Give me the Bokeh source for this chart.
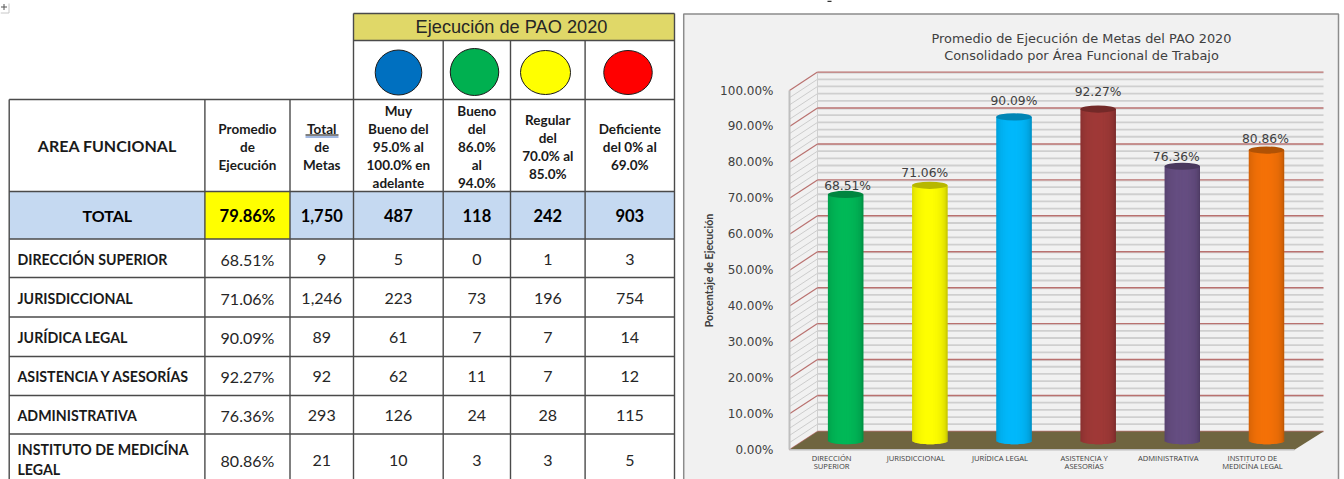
import math
from bokeh.core.properties import value
from bokeh.embed import file_html
from bokeh.layouts import row
from bokeh.models import FixedTicker, PrintfTickFormatter, Range1d
from bokeh.plotting import figure
from bokeh.resources import INLINE

# ---------- data ----------
areas = ["DIRECCIÓN SUPERIOR", "JURISDICCIONAL", "JURÍDICA LEGAL",
         "ASISTENCIA Y ASESORÍAS", "ADMINISTRATIVA", "INSTITUTO DE MEDICÍNA\nLEGAL"]
area_axis_labels = ["DIRECCIÓN\nSUPERIOR", "JURISDICCIONAL", "JURÍDICA LEGAL",
                    "ASISTENCIA Y\nASESORÍAS", "ADMINISTRATIVA", "INSTITUTO DE\nMEDICÍNA LEGAL"]
promedio = [68.51, 71.06, 90.09, 92.27, 76.36, 80.86]
total_metas = [9, 1246, 89, 92, 293, 21]
muy_bueno = [5, 223, 61, 62, 126, 10]
bueno = [0, 73, 7, 11, 24, 3]
regular = [1, 196, 7, 7, 28, 3]
deficiente = [3, 754, 14, 12, 115, 5]
total_row = ["79.86%", "1,750", "487", "118", "242", "903"]
y_ticks = [0, 10, 20, 30, 40, 50, 60, 70, 80, 90, 100]
minor_ticks = [v for v in range(0, 101, 2) if v % 10]
column_heads = ["Promedio\nde\nEjecución", "Total\nde\nMetas", "Muy\nBueno del\n95.0% al\n100.0% en\nadelante",
                "Bueno\ndel\n86.0%\nal\n94.0%", "Regular\ndel\n70.0% al\n85.0%", "Deficiente\ndel 0% al\n69.0%"]
bar_colors = ["#00b958", "#ffff00", "#00b9fc", "#a03a38", "#664e82", "#f57208"]
light_colors = ["#0070c0", "#00b050", "#ffff00", "#ff0000"]

CAL = "Lato"
L, T, R, B = 0, 0, 1344, 479

# ---------- table ----------
tw = 682
t = figure(width=tw, height=B - T, x_range=Range1d(L, L + tw), y_range=Range1d(B, T),
           output_backend="svg", toolbar_location=None, min_border=0,
           background_fill_color="white", border_fill_color="white", outline_line_color=None)
t.xaxis.visible = False
t.yaxis.visible = False
t.grid.visible = False

cols = [8.7, 204.4, 289.5, 353, 442.7, 510, 584.6, 674]
rows = [191, 238.5, 277, 316.5, 356, 395, 433.5, 480]
centers = [(cols[i] + cols[i + 1]) / 2 for i in range(1, 7)]

t.quad(left=[cols[3]], right=[cols[7]], top=[13], bottom=[40], fill_color="#e0d868", line_color=None)
t.quad(left=[cols[0]], right=[cols[7]], top=[rows[0]], bottom=[rows[1]], fill_color="#c5d9f1", line_color=None)
t.quad(left=[cols[1]], right=[cols[2]], top=[rows[0]], bottom=[rows[1]], fill_color="#ffff00", line_color=None)

# small table handle in the corner
t.segment(x0=[0, 8.5], x1=[8.5, 8.5], y0=[12.5, 3], y1=[12.5, 12.5], line_color="#c8c8c8", line_width=1)
t.segment(x0=[0.5, 3.5], x1=[6.5, 3.5], y0=[6.5, 3.5], y1=[6.5, 9.5], line_color="#555555", line_width=1)

lc = "#4a4a4a"
hx0 = [cols[3], cols[3], cols[0]] + [cols[0]] * 8
hx1 = [cols[7]] * 11
hy = [13, 40, 99] + rows
t.segment(x0=hx0, x1=hx1, y0=hy, y1=hy, line_color=lc, line_width=1.4)
vx = cols
vy0 = [99, 99, 99, 13, 40, 40, 40, 13]
t.segment(x0=vx, x1=vx, y0=vy0, y1=[480] * 8, line_color=lc, line_width=1.4)


def txt(fig, xs, ys, texts, size, style="normal", align="center", font=CAL, color="#000000"):
    fig.text(x=xs, y=ys, text=texts, text_font=value(font), text_font_size=value(size),
             text_font_style=style, text_align=align, text_baseline="middle", text_color=color)


txt(t, [513.5], [26], ["Ejecución de PAO  2020"], "18.2px", font="Liberation Sans", color="#262626")
t.ellipse(x=[398, 474, 545, 627.5], y=[72, 71.5, 72, 72], width=[46.6, 48.5, 50, 48.5],
          height=[45, 47, 44, 44], fill_color=light_colors, line_color="#1a1a1a", line_width=1)

txt(t, [106.8], [145], ["AREA FUNCIONAL"], "16px", "bold", color="#1a1a1a")
txt(t, [106.8], [215], ["TOTAL"], "16px", "bold")
for cx, head in zip(centers, column_heads):
    lines = head.split("\n")
    mid = 146
    ys = [mid + (i - (len(lines) - 1) / 2) * 18 for i in range(len(lines))]
    txt(t, [cx] * len(lines), ys, lines, "13.5px", "bold", color="#1a1a1a")
t.segment(x0=[305], x1=[338], y0=[134.5], y1=[134.5], line_color="#000000", line_width=1)
t.segment(x0=[305], x1=[338], y0=[136.5], y1=[136.5], line_color="#4472c4", line_width=1)
txt(t, centers, [215] * 6, total_row, "16.5px", "bold")

row_ys = [259, 298, 337, 376, 415, 460]
fmt = lambda v: f"{v:,}"
for j, cx in enumerate(centers):
    series = [[f"{v:.2f}%" for v in promedio], [fmt(v) for v in total_metas], [fmt(v) for v in muy_bueno],
              [fmt(v) for v in bueno], [fmt(v) for v in regular], [fmt(v) for v in deficiente]][j]
    txt(t, [cx] * 6, row_ys, series, "16px", color="#262626")
for a, y in zip(areas, row_ys):
    parts = a.split("\n")
    if len(parts) == 1:
        txt(t, [17], [y], parts, "14.2px", "bold", "left", color="#1a1a1a")
    else:
        txt(t, [17, 17], [449, 469], parts, "14.2px", "bold", "left", color="#1a1a1a")

# ---------- chart ----------
PX_X, PX_Y = 84.17, 3.593
X0, Y0 = 789.0, 449.3
DX, DY = 28 / PX_X, 18.4 / PX_Y
cw = R - (L + tw)
c_left = L + tw
fx = lambda px: (px - X0) / PX_X
fy = lambda py: (Y0 - py) / PX_Y

c = figure(width=cw, height=B - T, x_range=Range1d(fx(c_left), fx(R)), y_range=Range1d(fy(B), fy(T)),
           output_backend="svg", toolbar_location=None, min_border=0,
           background_fill_color="white", border_fill_color="white", outline_line_color=None)
c.grid.visible = False

# panel
c.quad(left=[fx(683.2)], right=[fx(1338)], top=[fy(13.5)], bottom=[fy(490)],
       fill_color="#f1f1f1", line_color="#8c8c8c", line_width=1.5)
c.quad(left=[fx(827)], right=[fx(831)], top=[fy(0)], bottom=[fy(1.5)], fill_color="#333333", line_color=None)

# walls
x_end = (1323 - X0) / PX_X
c.segment(x0=[0] * len(minor_ticks), x1=[DX] * len(minor_ticks), y0=minor_ticks,
          y1=[v + DY for v in minor_ticks], line_color="#cdcdcd", line_width=1)
c.segment(x0=[DX] * len(minor_ticks), x1=[x_end] * len(minor_ticks), y0=[v + DY for v in minor_ticks],
          y1=[v + DY for v in minor_ticks], line_color="#cfcfcf", line_width=1.8)
c.segment(x0=[DX], x1=[DX], y0=[DY], y1=[100 + DY], line_color="#d0d0d0", line_width=1)
c.segment(x0=[DX] * 11, x1=[x_end] * 11, y0=[v + DY - 0.3 for v in y_ticks],
          y1=[v + DY - 0.3 for v in y_ticks], line_color="#d4d4d4", line_width=1)
c.segment(x0=[0] * 11, x1=[DX] * 11, y0=y_ticks, y1=[v + DY for v in y_ticks], line_color="#b9716f", line_width=1.2)
c.segment(x0=[DX] * 11, x1=[x_end] * 11, y0=[v + DY for v in y_ticks], y1=[v + DY for v in y_ticks],
          line_color="#b9716f", line_width=1.4)
# floor
c.patch(x=[0, 6, x_end, DX], y=[0, 0, DY, DY], fill_color="#6f6540", line_color=None)
c.segment(x0=[0], x1=[6], y0=[0], y1=[0], line_color="#bdbdbd", line_width=1.5)


def shade(col, f):
    r, g, b = int(col[1:3], 16), int(col[3:5], 16), int(col[5:7], 16)
    return "#%02x%02x%02x" % (int(r * f), int(g * f), int(b * f))


# cylinders
N = 36
half_w = 17.7 / PX_X
cap_h = 3.6 / PX_Y
mid = DY / 2
for i, (v, col) in enumerate(zip(promedio, bar_colors)):
    cx = i + 0.5 + DX / 2
    ls, rs, bs, ts, fs = [], [], [], [], []
    for k in range(N):
        u0 = -1 + 2 * k / N
        u1 = -1 + 2 * (k + 1) / N
        um = (u0 + u1) / 2
        ls.append(cx + u0 * half_w)
        rs.append(cx + min(1.0, u1 + 2 / N) * half_w)
        bs.append(mid - cap_h * math.sqrt(max(0.0, 1 - um * um)))
        ts.append(v + mid)
        s = 0.58 + 0.42 * math.sqrt(max(0.0, 1 - ((um + 0.05) / 1.05) ** 2)) ** 0.5
        fs.append(shade(col, min(1.0, s)))
    c.quad(left=ls, right=rs, bottom=bs, top=ts, fill_color=fs, line_color=None)
    c.ellipse(x=[cx], y=[v + mid], width=[2 * half_w], height=[2 * cap_h], fill_color=shade(col, 0.72),
              line_color=None)

# value labels
label_gap_px = [8, 12, 16, 17, 9, 11]
label_dx_px = [2, -5, 0, 0, -6, -1]
lx = [i + 0.5 + DX / 2 + d / PX_X for i, d in enumerate(label_dx_px)]
ly = [v + mid + g / PX_Y for v, g in zip(promedio, label_gap_px)]
txt(c, lx, ly, [f"{v:.2f}%" for v in promedio], "12.3px", font="DejaVu Sans", color="#404040")

# title, y label
title_lines = ["Promedio de Ejecución de Metas del PAO 2020", "Consolidado por Área Funcional de Trabajo"]
txt(c, [fx(1081)] * 2, [fy(38), fy(54.7)], title_lines, "12.9px", font="DejaVu Sans", color="#404040")
c.text(x=[fx(708)], y=[fy(270)], text=["Porcentaje de Ejecución"], angle=math.pi / 2,
       text_font=value(CAL), text_font_size=value("10.7px"), text_font_style="bold",
       text_align="center", text_baseline="middle", text_color="#404040")

# axes
ya = c.yaxis[0]
ya.fixed_location = 0
ya.bounds = (0, 100)
ya.ticker = FixedTicker(ticks=y_ticks)
ya.formatter = PrintfTickFormatter(format="%.2f%%")
ya.major_tick_line_color = None
ya.minor_tick_line_color = None
ya.axis_line_color = "#bfbfbf"
ya.axis_line_width = 2
ya.major_label_standoff = 10
ya.major_label_text_font = "DejaVu Sans"
ya.major_label_text_font_size = "12px"
ya.major_label_text_color = "#404040"

xa = c.xaxis[0]
xa.fixed_location = 0
xa.ticker = FixedTicker(ticks=[i + 0.5 for i in range(6)])
xa.major_label_overrides = {i + 0.5: s for i, s in enumerate(area_axis_labels)}
xa.major_tick_line_color = None
xa.minor_tick_line_color = None
xa.axis_line_color = None
xa.major_label_standoff = -3
xa.major_label_text_font = "Open Sans"
xa.major_label_text_font_size = "7.6px"
xa.major_label_text_line_height = 0.85
xa.major_label_text_color = "#404040"

open("out.html", "w").write(file_html(row(t, c, spacing=0), INLINE))
